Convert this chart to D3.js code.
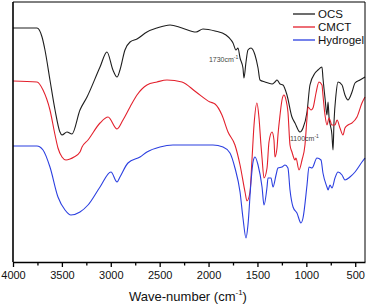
<!DOCTYPE html>
<html lang="en">
<head>
<meta charset="UTF-8" />
<script src="https://d3js.org/d3.v7.min.js"></script>
<title>FTIR</title>
<style>
  body { margin: 0; background: #fff; }
  text { font-family: "Liberation Sans", Arial, sans-serif; }
</style>
</head>
<body>
<script>
// wavenumber (cm-1) and transmittance (a.u., offset)
var ocsWn = [4000,3755,3703,3673,3622,3570,3520,3499,3448,3397,3315,3243,3110,3039,2978,2936,2906,2855,2803,2732,2630,2527,2394,2272,2128,2057,1934,1822,1770,1750,1720,1699,1678,1648,1638,1617,1597,1566,1525,1494,1474,1423,1351,1321,1300,1269,1239,1198,1147,1116,1065,1034,993,963,911,881,840,830,809,789,778,768,738,727,717,697,676,635,605,574,533,502,451,400];
var ocsT  = [234,234,225,212,182,152,130,127,130,128,152,165,195,210,192,185,192,212,220,223,230,234,237,234,230,233,231,227,222,219,212,214,204,194,184,200,212,214,207,194,182,180,178,180,182,178,177,167,145,139,130,134,150,177,189,192,195,184,164,147,160,145,127,112,140,167,180,177,167,162,170,179,182,185];

var cmctWn = [4000,3755,3693,3622,3570,3540,3499,3458,3417,3376,3315,3294,3233,3110,3028,2936,2875,2803,2732,2630,2527,2425,2272,2128,1985,1934,1863,1801,1730,1678,1627,1607,1576,1556,1535,1505,1484,1464,1453,1433,1402,1382,1351,1331,1321,1300,1290,1269,1249,1229,1208,1188,1167,1147,1116,1106,1075,1044,1014,993,983,952,932,901,871,840,830,809,789,768,738,707,686,656,625,605,574,533,482,431,400];
var cmctT  = [181,180,172,152,127,114,105,102,103,105,110,115,122,139,145,133,142,155,167,177,180,182,180,170,160,158,147,130,117,97,70,61,70,102,137,159,144,117,104,84,94,120,130,122,105,114,127,147,162,167,162,150,117,110,102,104,92,102,117,144,155,152,154,169,180,177,167,147,137,144,137,137,142,134,127,134,137,139,145,159,165];

var gelWn = [4000,3755,3693,3622,3540,3468,3407,3315,3233,3110,2998,2936,2906,2824,2701,2630,2497,2364,2251,1955,1852,1781,1730,1678,1648,1617,1597,1566,1545,1525,1494,1453,1433,1402,1392,1361,1341,1310,1290,1249,1218,1188,1167,1136,1096,1055,1034,993,973,942,891,850,830,789,778,758,738,707,676,635,605,554,502,431,400];
var gelT  = [116,116,112,95,65,52,47,50,57,75,90,80,85,99,105,110,115,117,117,117,115,109,94,70,44,24,37,80,100,105,97,75,57,75,84,84,75,87,94,95,97,94,72,55,49,39,44,77,95,94,104,102,89,75,72,77,74,84,90,87,82,85,90,100,104];

var seriesNames = ["OCS", "CMCT", "Hydrogel"];
var seriesColors = ["#1e1e1e", "#e3202c", "#2b3fe0"];
var majorTicks = [4000,3500,3000,2500,2000,1500,1000,500];
var minorTicks = [3750,3250,2750,2250,1750,1250,750];
var notes = [{label: "1730cm", wn: 1996, t: 200}, {label: "1100cm", wn: 1167, t: 121}];

var width = 367, height = 308;
var svg = d3.select("body").append("svg").attr("width", width).attr("height", height);

var x = d3.scaleLinear().domain([4000, 400]).range([13, 365]);
var y = d3.scaleLinear().domain([0, 260]).range([262, 2]);

var data = [
  ocsWn.map(function(w, i){ return [w, ocsT[i]]; }),
  cmctWn.map(function(w, i){ return [w, cmctT[i]]; }),
  gelWn.map(function(w, i){ return [w, gelT[i]]; })
];

var line = d3.line()
  .x(function(d){ return x(d[0]); })
  .y(function(d){ return y(d[1]); })
  .curve(d3.curveMonotoneX);

svg.selectAll("path.spec").data(data).enter().append("path")
  .attr("class", "spec")
  .attr("d", line)
  .attr("fill", "none")
  .attr("stroke", function(d, i){ return seriesColors[i]; })
  .attr("stroke-width", 1.1);

// frame
svg.append("line").attr("x1", 13).attr("x2", 365).attr("y1", 2).attr("y2", 2).attr("stroke", "#000").attr("stroke-width", 1);
svg.append("line").attr("x1", 365).attr("x2", 365).attr("y1", 2).attr("y2", 262).attr("stroke", "#000").attr("stroke-width", 1);
svg.append("line").attr("x1", 13).attr("x2", 13).attr("y1", 2).attr("y2", 262).attr("stroke", "#000").attr("stroke-width", 1.6);

// minor ticks
svg.append("g").attr("transform", "translate(0,262)")
  .call(d3.axisBottom(x).tickValues(minorTicks).tickSize(3.5).tickSizeOuter(0).tickFormat(""))
  .call(function(g){ g.select(".domain").remove(); g.selectAll("line").attr("stroke-width", 1.3); });

// major axis
var xAxis = svg.append("g").attr("transform", "translate(0,262)")
  .call(d3.axisBottom(x).tickValues(majorTicks).tickSize(5).tickSizeOuter(0).tickPadding(4).tickFormat(d3.format("d")));
xAxis.select(".domain").attr("stroke-width", 1.6);
xAxis.selectAll("line").attr("stroke-width", 1.3);
xAxis.selectAll("text").attr("font-size", 11).attr("fill", "#111")
  .style("font-family", "'Liberation Sans', Arial, sans-serif");

// axis title
var title = svg.append("text").attr("x", 188).attr("y", 301).attr("text-anchor", "middle")
  .attr("font-size", 13).attr("fill", "#111");
title.append("tspan").text("Wave-number (cm");
title.append("tspan").attr("font-size", 8).attr("dy", -6).text("-1");
title.append("tspan").attr("dy", 6).text(")");

// legend
var legend = svg.append("g");
seriesNames.forEach(function(n, i){
  var ly = 14 + i * 13;
  legend.append("line").attr("x1", 293).attr("x2", 315).attr("y1", ly).attr("y2", ly)
    .attr("stroke", seriesColors[i]).attr("stroke-width", 1.3);
  legend.append("text").attr("x", 318).attr("y", ly + 4).attr("font-size", 11.5).attr("fill", "#111").text(n);
});

// peak notes
notes.forEach(function(n){
  var t = svg.append("text").attr("x", x(n.wn)).attr("y", y(n.t)).attr("font-size", 7).attr("fill", "#444");
  t.append("tspan").text(n.label);
  t.append("tspan").attr("font-size", 5).attr("dy", -3).text("-1");
});
</script>
</body>
</html>
